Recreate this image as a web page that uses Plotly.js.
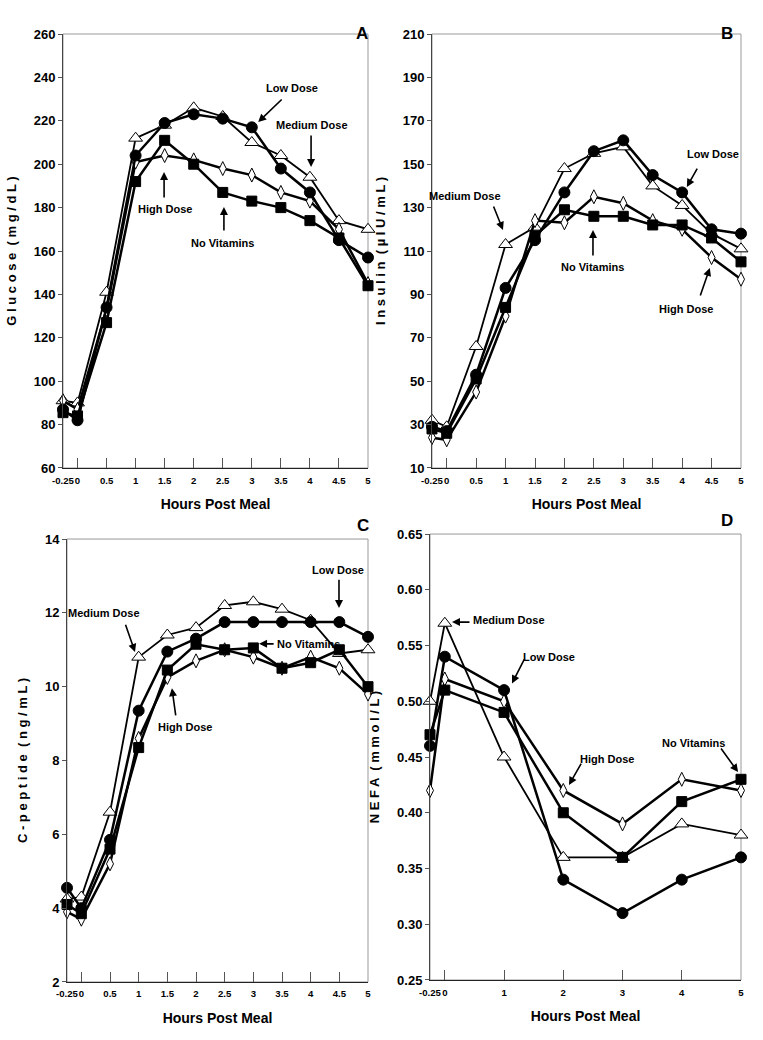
<!DOCTYPE html>
<html>
<head>
<meta charset="utf-8">
<script src="https://cdn.plot.ly/plotly-3.0.1.min.js"></script>
<style>
  html, body { margin: 0; padding: 0; background: #fff; }
  #chart { width: 763px; height: 1040px; }
</style>
</head>
<body>
<div id="chart"></div>
<script>
// time points (hours post meal)
var hoursABC = [-0.25, 0, 0.5, 1, 1.5, 2, 2.5, 3, 3.5, 4, 4.5, 5];
var hoursD = [-0.25, 0, 1, 2, 3, 4, 5];

// A - glucose (mg/dL)
var glucoseNoVit = [85.5, 84, 127, 192, 211, 200, 187, 183, 180, 174, 166, 144];
var glucoseLow = [87, 82, 134, 204, 219, 223, 221, 217, 198, 187, 165, 157];
var glucoseMed = [91, 90, 141, 212, 218, 226, 222, 210, 204, 194, 174, 170];
var glucoseHigh = [91, 87, 133, 201, 204, 202, 198, 195, 187, 183, 170, 145];

// B - insulin (uIU/mL)
var insulinNoVit = [28, 26, 51, 84, 117, 129, 126, 126, 122, 122, 116, 105];
var insulinLow = [29, 27, 53, 93, 115, 137, 156, 161, 145, 137, 120, 118];
var insulinMed = [32, 29, 66, 113, 121, 148, 155, 158, 140, 131, 118, 111];
var insulinHigh = [24, 23, 45, 80, 124, 123, 135, 132, 124, 120, 107, 97];

// C - C-peptide (ng/mL)
var cpepNoVit = [4.1, 3.85, 5.6, 8.35, 10.45, 11.15, 11.0, 11.05, 10.5, 10.65, 11.0, 10.0];
var cpepLow = [4.55, 4.0, 5.85, 9.35, 10.95, 11.3, 11.75, 11.75, 11.75, 11.75, 11.75, 11.35];
var cpepMed = [4.25, 4.3, 6.6, 10.8, 11.4, 11.6, 12.2, 12.3, 12.1, 11.8, 10.9, 11.0];
var cpepHigh = [3.9, 3.7, 5.2, 8.6, 10.25, 10.7, 11.0, 10.8, 10.5, 10.8, 10.5, 9.8];

// D - NEFA (mmol/L)
var nefaNoVit = [0.47, 0.51, 0.49, 0.40, 0.36, 0.41, 0.43];
var nefaLow = [0.46, 0.54, 0.51, 0.34, 0.31, 0.34, 0.36];
var nefaMed = [0.50, 0.57, 0.45, 0.36, 0.36, 0.39, 0.38];
var nefaHigh = [0.42, 0.52, 0.50, 0.42, 0.39, 0.43, 0.42];

var sans = "Liberation Sans, Arial, sans-serif";

// one style per group
var styles = {
    noVit: {symbol: "square", size: 10, color: "#000", lw: 2.5},
    low: {symbol: "circle", size: 11, color: "#000", lw: 2.5},
    med: {symbol: "triangle-up", size: 12, color: "#fff", lw: 1.8},
    high: {symbol: "diamond-tall", size: 10, color: "#fff", lw: 2.5}
};

function series(x, y, s, xa, ya) {
    return {
        x: x, y: y, xaxis: xa, yaxis: ya,
        type: "scatter", mode: "lines+markers", cliponaxis: false,
        line: {color: "#000", width: s.lw},
        marker: {symbol: s.symbol, size: s.size, color: s.color, line: {color: "#000", width: 1}}
    };
}

var data = [
    series(hoursABC, glucoseMed, styles.med, "x", "y"),
    series(hoursABC, glucoseHigh, styles.high, "x", "y"),
    series(hoursABC, glucoseNoVit, styles.noVit, "x", "y"),
    series(hoursABC, glucoseLow, styles.low, "x", "y"),

    series(hoursABC, insulinMed, styles.med, "x2", "y2"),
    series(hoursABC, insulinHigh, styles.high, "x2", "y2"),
    series(hoursABC, insulinNoVit, styles.noVit, "x2", "y2"),
    series(hoursABC, insulinLow, styles.low, "x2", "y2"),

    series(hoursABC, cpepMed, styles.med, "x3", "y3"),
    series(hoursABC, cpepHigh, styles.high, "x3", "y3"),
    series(hoursABC, cpepNoVit, styles.noVit, "x3", "y3"),
    series(hoursABC, cpepLow, styles.low, "x3", "y3"),

    series(hoursD, nefaMed, styles.med, "x4", "y4"),
    series(hoursD, nefaHigh, styles.high, "x4", "y4"),
    series(hoursD, nefaNoVit, styles.noVit, "x4", "y4"),
    series(hoursD, nefaLow, styles.low, "x4", "y4")
];

function xAxis(domain, ticks, anchor) {
    return {
        domain: domain, anchor: anchor, range: [-0.25, 5],
        tickvals: ticks, ticktext: ticks.map(String), tickangle: 0,
        ticks: "inside", ticklen: 10, tickcolor: "#555", tickwidth: 1,
        showline: true, linecolor: "#222", linewidth: 1,
        showgrid: false, zeroline: false, ticklabelstandoff: 3,
        tickfont: {family: sans, size: 9.6, color: "#000", weight: "bold"},
        title: {text: "Hours Post Meal", standoff: 14,
                font: {family: sans, size: 14, color: "#000", weight: "bold"}}
    };
}

function yAxis(domain, range, dtick, title, anchor, fmt) {
    return {
        domain: domain, anchor: anchor, range: range,
        tick0: range[0], dtick: dtick, tickformat: fmt || "",
        ticks: "outside", ticklen: 4, tickcolor: "#555",
        showline: true, linecolor: "#444", linewidth: 1,
        showgrid: false, zeroline: false,
        tickfont: {family: sans, size: 13, color: "#000", weight: "bold"},
        title: {text: title, standoff: 14,
                font: {family: sans, size: 13, color: "#000", weight: "bold"}}
    };
}

var topRow = [0.55, 0.9673];
var botRowC = [0.0558, 0.4817];
var botRowD = [0.0577, 0.4865];

function label(xa, ya, x, y, text, anchor) {
    return {xref: xa, yref: ya, x: x, y: y, text: text, showarrow: false,
            xanchor: anchor || "center",
            font: {family: sans, size: 11, color: "#000", weight: "bold"}};
}

function arrow(xa, ya, hx, hy, tx, ty) {
    return {xref: xa, yref: ya, x: hx, y: hy, axref: xa, ayref: ya, ax: tx, ay: ty,
            text: "", showarrow: true, arrowhead: 2, arrowsize: 1, arrowwidth: 1.6,
            arrowcolor: "#000", standoff: 0, startstandoff: 0};
}

function panel(x, y, text) {
    return {xref: "paper", yref: "paper", x: x, y: y, text: text, showarrow: false,
            font: {family: sans, size: 17, color: "#000", weight: "bold"}};
}

var annotations = [
    panel(362 / 763, 1 - 22 / 1040, "A"),
    panel(735 / 763, 1 - 22 / 1040, "B"),
    panel(363 / 763, 1 - 525 / 1040, "C"),
    panel(735 / 763, 1 - 520 / 1040, "D"),

    label("x", "y", 3.69, 235, "Low Dose"),
    arrow("x", "y", 3.11, 219.4, 3.54, 230.5),
    label("x", "y", 4.04, 218, "Medium Dose"),
    arrow("x", "y", 4.02, 198.7, 4.02, 213.9),
    label("x", "y", 1.51, 179.4, "High Dose"),
    arrow("x", "y", 1.49, 196.4, 1.49, 184),
    label("x", "y", 2.49, 163.7, "No Vitamins"),
    arrow("x", "y", 2.52, 180.3, 2.52, 168.8),

    label("x2", "y2", 0.31, 135.3, "Medium Dose"),
    arrow("x2", "y2", 0.956, 119.7, 0.786, 131.2),
    label("x2", "y2", 2.47, 102.6, "No Vitamins"),
    arrow("x2", "y2", 2.485, 119.7, 2.485, 107.2),
    label("x2", "y2", 4.52, 154.7, "Low Dose"),
    arrow("x2", "y2", 4.08, 139.5, 4.27, 148.7),
    label("x2", "y2", 4.065, 83.3, "High Dose"),
    arrow("x2", "y2", 4.47, 102.2, 4.30, 88.8),

    label("x3", "y3", 0.40, 12.0, "Medium Dose"),
    arrow("x3", "y3", 0.936, 10.94, 0.762, 11.72),
    label("x3", "y3", 4.477, 13.16, "Low Dose"),
    arrow("x3", "y3", 4.494, 12.13, 4.494, 12.94),
    label("x3", "y3", 3.38, 11.16, "No Vitamins", "left"),
    arrow("x3", "y3", 3.10, 11.16, 3.38, 11.16),
    label("x3", "y3", 1.81, 8.91, "High Dose"),
    arrow("x3", "y3", 1.58, 9.96, 1.65, 9.18),

    label("x4", "y4", 0.442, 0.573, "Medium Dose", "left"),
    arrow("x4", "y4", 0.121, 0.571, 0.442, 0.571),
    label("x4", "y4", 1.76, 0.540, "Low Dose"),
    arrow("x4", "y4", 1.134, 0.516, 1.354, 0.539),
    label("x4", "y4", 2.738, 0.448, "High Dose"),
    arrow("x4", "y4", 2.096, 0.425, 2.316, 0.4455),
    label("x4", "y4", 4.19, 0.4626, "No Vitamins"),
    arrow("x4", "y4", 4.95, 0.4365, 4.645, 0.459)
];

// light grey frame around each plot area
var shapes = [["x", "y"], ["x2", "y2"], ["x3", "y3"], ["x4", "y4"]].map(function (p) {
    return {type: "rect", xref: p[0] + " domain", yref: p[1] + " domain",
            x0: 0, x1: 1, y0: 0, y1: 1, layer: "below",
            line: {color: "#999", width: 1}};
});

var layout = {
    width: 763, height: 1040,
    margin: {l: 0, r: 0, t: 0, b: 0},
    paper_bgcolor: "#fff", plot_bgcolor: "#fff",
    showlegend: false,
    xaxis: xAxis([63 / 763, 368 / 763], hoursABC, "y"),
    yaxis: yAxis(topRow, [60, 260], 20, "G l u c o s e  ( m g / d L )", "x"),
    xaxis2: xAxis([432 / 763, 741 / 763], hoursABC, "y2"),
    yaxis2: yAxis(topRow, [10, 210], 20, "I n s u l i n  ( µ I U / m L )", "x2"),
    xaxis3: xAxis([67 / 763, 368 / 763], hoursABC, "y3"),
    yaxis3: yAxis(botRowC, [2, 14], 2, "C - p e p t i d e  ( n g / m L )", "x3"),
    xaxis4: xAxis([430 / 763, 741 / 763], hoursD, "y4"),
    yaxis4: yAxis(botRowD, [0.25, 0.65], 0.05, "N E F A  ( m m o l / L )", "x4", ".2f"),
    annotations: annotations,
    shapes: shapes
};

Plotly.newPlot("chart", data, layout, {staticPlot: true});
</script>
</body>
</html>
